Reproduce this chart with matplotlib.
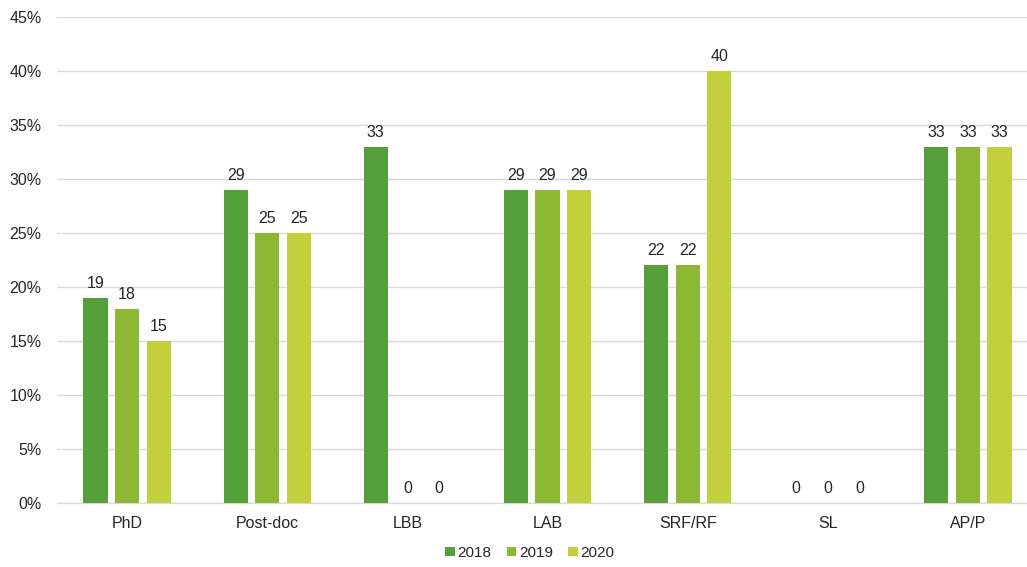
import matplotlib
matplotlib.use("Agg")
import matplotlib.pyplot as plt
import numpy as np

plt.rcParams['font.family'] = ['Liberation Sans', 'DejaVu Sans']

categories = ["PhD", "Post-doc", "LBB", "LAB", "SRF/RF", "SL", "AP/P"]
years = ["2018", "2019", "2020"]
values_2018 = [19, 29, 33, 29, 22, 0, 33]
values_2019 = [18, 25, 0, 29, 22, 0, 33]
values_2020 = [15, 25, 0, 29, 40, 0, 33]
series = [values_2018, values_2019, values_2020]
colors = ["#56A03C", "#8CB834", "#C3CF3B"]
y_ticks = [0, 5, 10, 15, 20, 25, 30, 35, 40, 45]

W, H = 1027, 567
fig = plt.figure(figsize=(W / 100, H / 100), dpi=100)
left_px, right_px, bottom_px, top_px = 57, 1038, 64, 550
ax = fig.add_axes([left_px / W, bottom_px / H, (right_px - left_px) / W, (top_px - bottom_px) / H])

fs = 11.5
x = np.arange(len(categories))
bar_w = 0.172
step = 0.225
for i, (vals, col, yr) in enumerate(zip(series, colors, years)):
    pos = x + (i - 1) * step
    ax.bar(pos, vals, width=bar_w, color=col, label=yr, zorder=3)
    for p, v in zip(pos, vals):
        ax.annotate(f"{v}", (p, v), xytext=(0, 5), textcoords="offset points",
                    ha="center", va="bottom", fontsize=fs, color="#262626")

ax.set_xlim(-0.5, len(categories) - 0.5)
ax.set_ylim(0, 45)
ax.set_yticks(y_ticks)
ax.set_yticklabels([f"{t}%" for t in y_ticks])
ax.set_xticks(x)
ax.set_xticklabels(categories)
ax.tick_params(axis="both", length=0, labelsize=fs, colors="#262626")
ax.tick_params(axis="y", pad=11)
ax.tick_params(axis="x", pad=9)
ax.yaxis.grid(True, color="#D9D9D9", linewidth=1, zorder=0)
for s in ["top", "right", "left"]:
    ax.spines[s].set_visible(False)
ax.spines["bottom"].set_color("#D9D9D9")
ax.spines["bottom"].set_linewidth(1)

fig.legend(loc="center", bbox_to_anchor=(530 / W, 14 / H), ncol=3, frameon=False,
           fontsize=11, handlelength=0.6, handleheight=0.6, handletextpad=0.2,
           columnspacing=1.0, labelcolor="#262626")

fig.savefig("out.png", dpi=100)
